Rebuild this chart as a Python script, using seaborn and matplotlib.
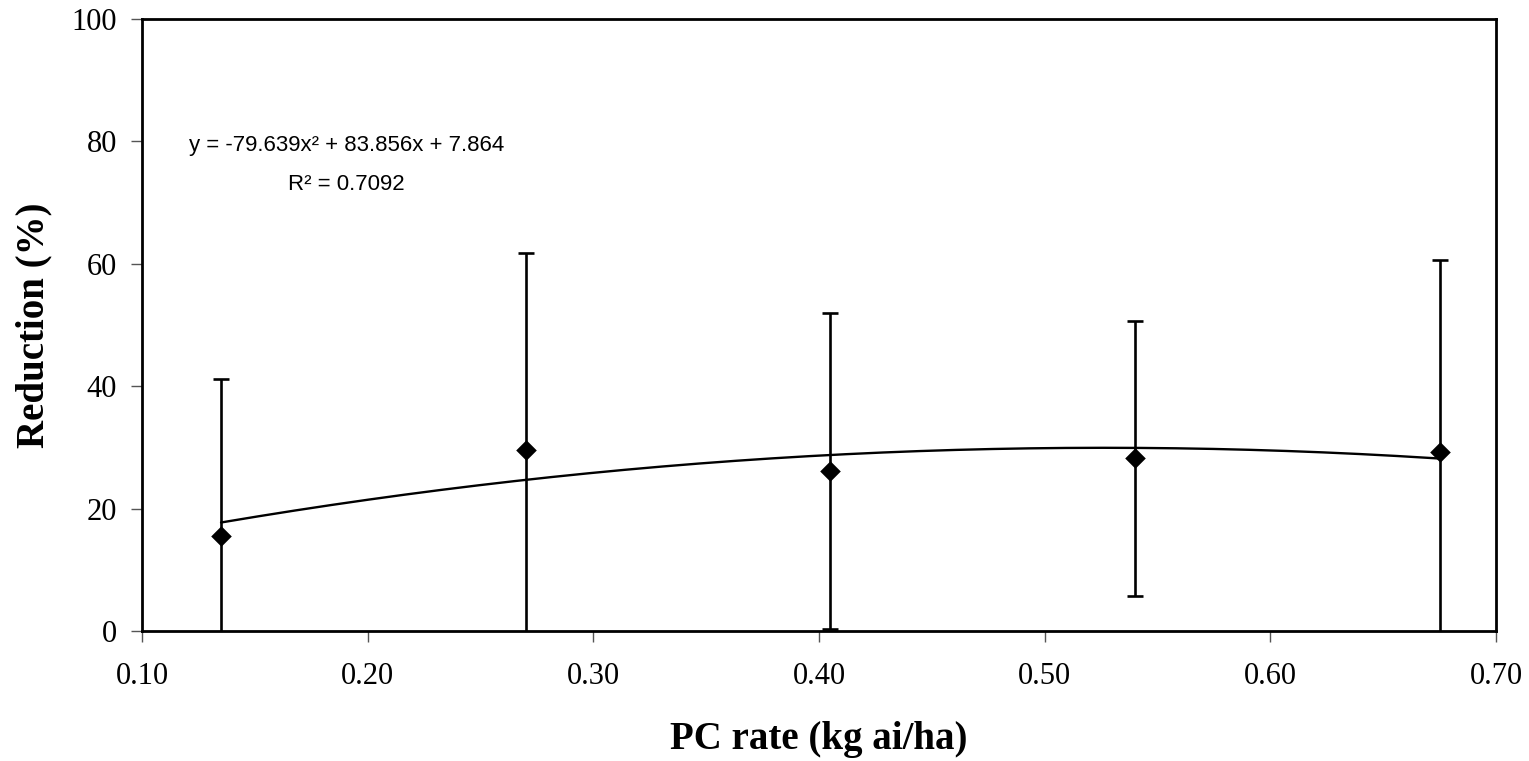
import numpy as np
import pandas as pd
import matplotlib
matplotlib.use("Agg")
import matplotlib.pyplot as plt
import seaborn as sns

# PC application rates and mean reduction with error half-widths
rate = [0.135, 0.27, 0.405, 0.54, 0.675]
reduction = [15.6, 29.6, 26.1, 28.2, 29.3]
err = [25.6, 32.1, 25.8, 22.5, 31.3]

# Quadratic trendline coefficients (a*x^2 + b*x + c) and fit quality
coef = [-79.639, 83.856, 7.864]
r_squared = 0.7092

xticks = [0.10, 0.20, 0.30, 0.40, 0.50, 0.60, 0.70]
yticks = [0, 20, 40, 60, 80, 100]

sns.set_style("white")
plt.rcParams["font.family"] = ["Liberation Serif", "DejaVu Serif"]
plt.rcParams["text.color"] = "black"
plt.rcParams["axes.labelcolor"] = "black"

fig = plt.figure(figsize=(15.29, 7.61), dpi=100)
ax = fig.add_axes([0.0929, 0.1708, 0.8855, 0.8042])

df = pd.DataFrame({"rate": rate, "reduction": reduction, "err": err})

# Error bars
ax.errorbar(df["rate"], df["reduction"], yerr=df["err"], fmt="none",
            ecolor="black", elinewidth=1.9, capsize=6, capthick=1.9, zorder=2)

# Trendline drawn from the fitted coefficients over the data range
xs = np.linspace(min(rate), max(rate), 200)
ys = np.polyval(coef, xs)
sns.lineplot(x=xs, y=ys, ax=ax, color="black", linewidth=1.7, zorder=3)

# Mean points
sns.scatterplot(data=df, x="rate", y="reduction", ax=ax, marker="D",
                s=110, color="black", edgecolor="black", linewidth=0, zorder=4)

ax.set_xlim(0.10, 0.70)
ax.set_ylim(0, 100)
ax.set_xticks(xticks)
ax.set_xticklabels([f"{t:.2f}" for t in xticks])
ax.set_yticks(yticks)
ax.tick_params(axis="both", direction="out", length=8, width=1.0,
               color="#555555", labelcolor="black", labelsize=22, pad=10,
               bottom=True, left=True)
ax.tick_params(axis="x", pad=14)

for side in ["left", "right", "top", "bottom"]:
    ax.spines[side].set_visible(True)
    ax.spines[side].set_color("black")
    ax.spines[side].set_linewidth(2.0)

ax.set_xlabel("PC rate (kg ai/ha)", fontsize=28, fontweight="bold", labelpad=22)
ax.set_ylabel("Reduction (%)", fontsize=28, fontweight="bold", labelpad=14)

eq = f"y = {coef[0]:.3f}x\u00b2 + {coef[1]:.3f}x + {coef[2]:.3f}"
ax.text(0.1905, 79.4, eq, ha="center", va="center", fontsize=16,
        family=["Liberation Sans", "DejaVu Sans"])
ax.text(0.1905, 73.0, f"R\u00b2 = {r_squared:.4f}", ha="center", va="center",
        fontsize=16, family=["Liberation Sans", "DejaVu Sans"])

fig.savefig("out.png", dpi=100, facecolor="white")
